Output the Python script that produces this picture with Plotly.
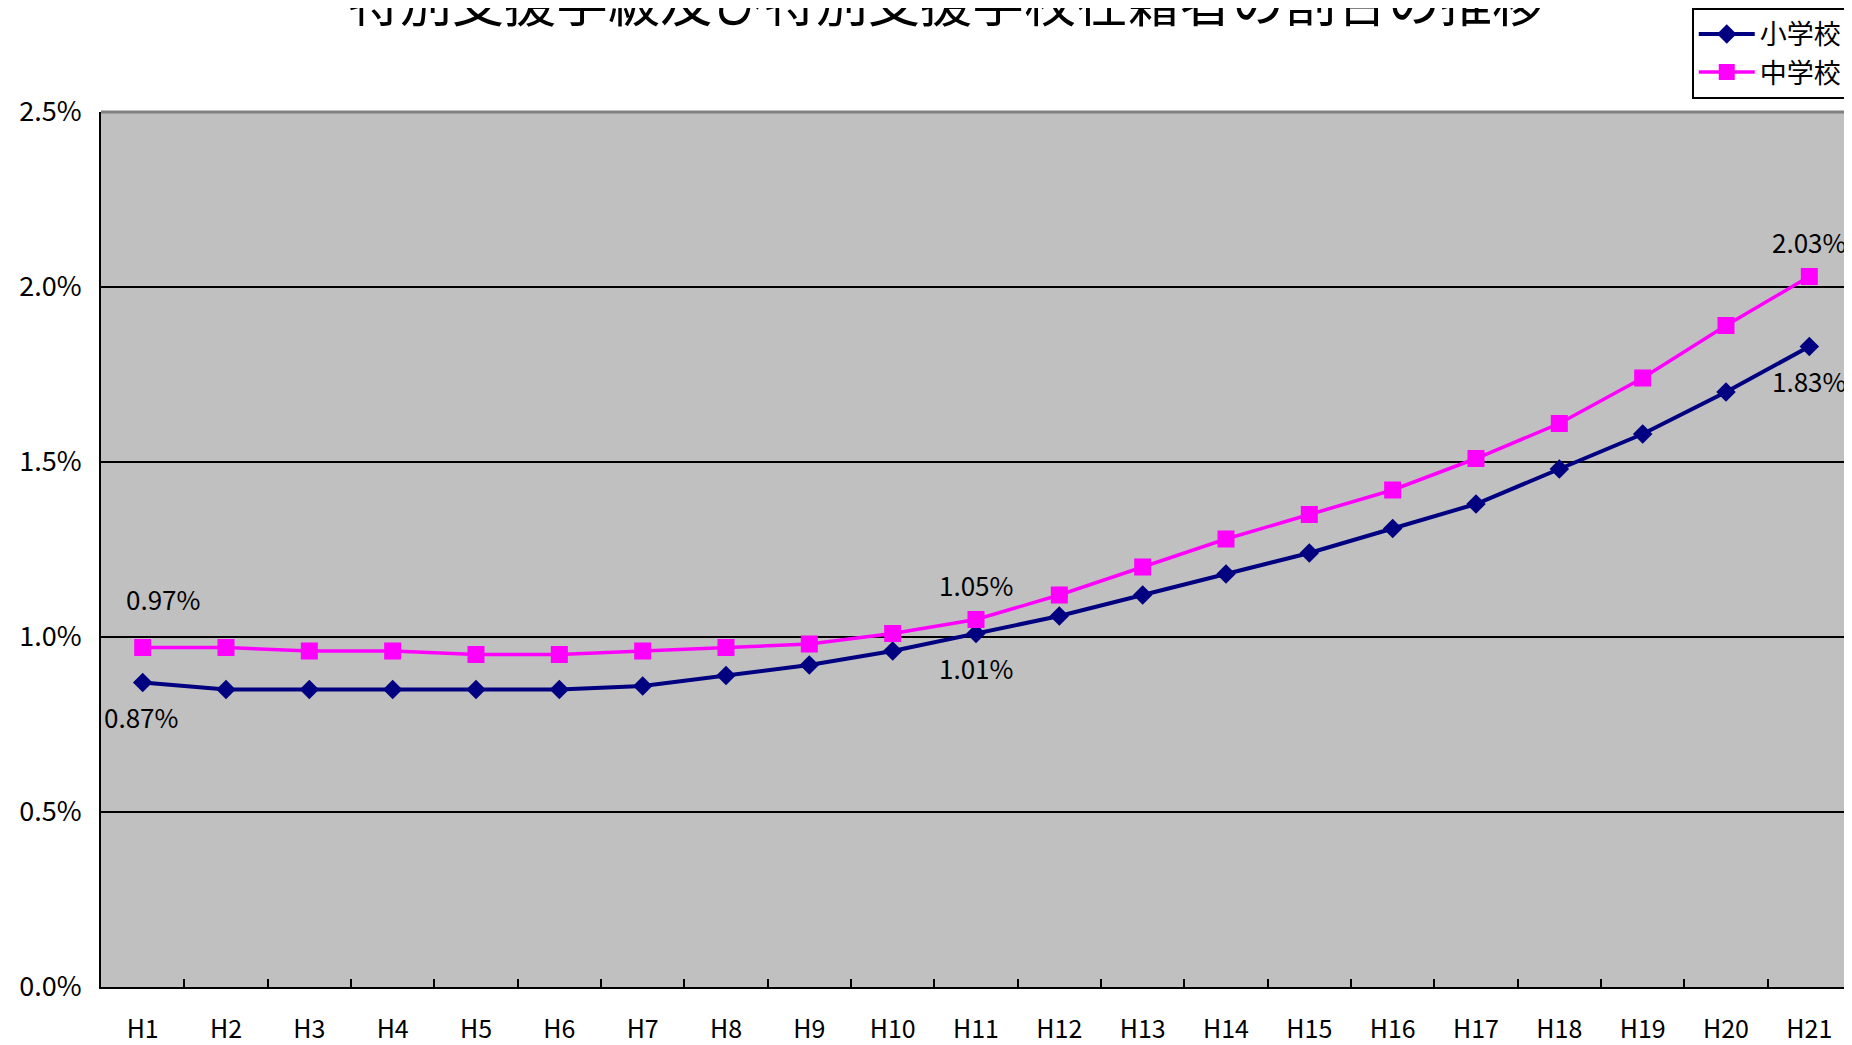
import plotly.graph_objects as go

title_text = "特別支援学級及び特別支援学校在籍者の割合の推移"
years = ["H1", "H2", "H3", "H4", "H5", "H6", "H7", "H8", "H9", "H10", "H11",
         "H12", "H13", "H14", "H15", "H16", "H17", "H18", "H19", "H20", "H21"]
elementary = [0.87, 0.85, 0.85, 0.85, 0.85, 0.85, 0.86, 0.89, 0.92, 0.96, 1.01,
              1.06, 1.12, 1.18, 1.24, 1.31, 1.38, 1.48, 1.58, 1.70, 1.83]
junior = [0.97, 0.97, 0.96, 0.96, 0.95, 0.95, 0.96, 0.97, 0.98, 1.01, 1.05,
          1.12, 1.20, 1.28, 1.35, 1.42, 1.51, 1.61, 1.74, 1.89, 2.03]
y_ticks = [0.0, 0.5, 1.0, 1.5, 2.0, 2.5]
y_tick_labels = ["0.0%", "0.5%", "1.0%", "1.5%", "2.0%", "2.5%"]
labeled_idx = [0, 10, 20]

FONT = "Noto Sans CJK JP"

fig = go.Figure()
fig.add_trace(go.Scatter(
    x=years, y=elementary, name="小学校", mode="lines+markers",
    line=dict(color="#000080", width=4),
    marker=dict(symbol="diamond", size=15, color="#000080"),
))
fig.add_trace(go.Scatter(
    x=years, y=junior, name="中学校", mode="lines+markers",
    line=dict(color="#FF00FF", width=3.5),
    marker=dict(symbol="square", size=17, color="#FF00FF"),
))

annotations = []
for i in labeled_idx:
    annotations.append(dict(
        x=years[i], y=junior[i], xref="x", yref="y", showarrow=False,
        text=f"{junior[i]:.2f}%", font=dict(family=FONT, size=26, color="black"),
        yshift=49 if i == 0 else 35, xshift=20 if i == 0 else 0,
    ))
    annotations.append(dict(
        x=years[i], y=elementary[i], xref="x", yref="y", showarrow=False,
        text=f"{elementary[i]:.2f}%", font=dict(family=FONT, size=26, color="black"),
        yshift=-34, xshift=-2 if i == 0 else 0,
    ))
annotations.append(dict(
    x=0.483, y=1.129, xref="paper", yref="paper", showarrow=False,
    text=title_text, font=dict(family=FONT, size=52, color="black"),
    xanchor="center", yanchor="middle",
))

fig.update_layout(
    width=1852, height=1045,
    margin=dict(l=93, r=9, t=104, b=66, autoexpand=False),
    paper_bgcolor="white", plot_bgcolor="#C0C0C0",
    font=dict(family=FONT, color="black"),
    showlegend=True,
    legend=dict(
        x=0.909, xanchor="left", y=1.119, yanchor="top",
        bgcolor="white", bordercolor="black", borderwidth=2,
        font=dict(family=FONT, size=27, color="black"),
        tracegroupgap=0, itemwidth=56,
    ),
    annotations=annotations,
    shapes=[
        dict(type="line", xref="paper", yref="paper", x0=0, x1=1, y0=1, y1=1,
             line=dict(color="#808080", width=3)),
        dict(type="line", xref="paper", yref="paper", x0=1, x1=1, y0=0, y1=1,
             line=dict(color="#606060", width=2)),
    ],
)
fig.update_xaxes(
    type="category", range=[-0.5, len(years) - 0.5], automargin=False,
    showgrid=False, showline=True, linecolor="black", linewidth=2,
    ticks="inside", tickson="boundaries", ticklen=8, tickwidth=2, tickcolor="black",
    tickfont=dict(family=FONT, size=25, color="black"),
    ticklabelstandoff=19,
)
fig.update_yaxes(
    range=[0, 2.5], tickvals=y_ticks, ticktext=y_tick_labels, automargin=False,
    showgrid=True, gridcolor="black", gridwidth=2,
    showline=True, linecolor="black", linewidth=2,
    ticks="inside", ticklen=10, tickwidth=2, tickcolor="black",
    tickfont=dict(family=FONT, size=27, color="black"),
    zeroline=False, ticklabelstandoff=12,
)

fig.write_html("out.html")
